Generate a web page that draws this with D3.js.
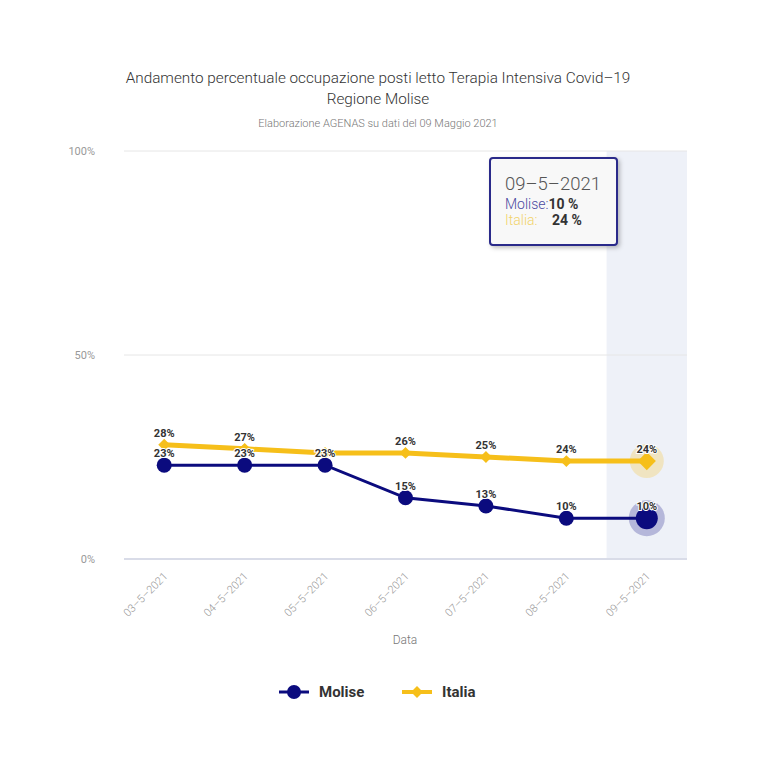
<!DOCTYPE html>
<html>
<head>
<meta charset="utf-8">
<script src="https://cdn.jsdelivr.net/npm/d3@7/dist/d3.min.js"></script>
<style>
  body { margin: 0; background: #fff; }
  svg { font-family: Roboto, "Open Sans", sans-serif; }
</style>
</head>
<body>
<div id="chart"></div>
<script>
const dates = ["03–5–2021", "04–5–2021", "05–5–2021", "06–5–2021", "07–5–2021", "08–5–2021", "09–5–2021"];
const molise = [23, 23, 23, 15, 13, 10, 10];
const italia = [28, 27, 26, 26, 25, 24, 24];
const yTicks = [0, 50, 100];
// labels hidden in the original because they overlap
const italiaHidden = [false, false, true, false, false, false, false];

const width = 768, height = 768;
const margin = {left: 124, right: 81, top: 151, bottom: 209};

const navy = "#0b0b7e", gold = "#f6bf1a";

let svg = d3.select("#chart")
    .append("svg")
    .attr("width", width)
    .attr("height", height);

let x = d3.scaleBand()
    .domain(dates)
    .range([margin.left, width - margin.right]);

let y = d3.scaleLinear()
    .domain([0, 100])
    .range([height - margin.bottom, margin.top]);

let cx = d => x(d) + x.bandwidth() / 2;

// highlighted band for the hovered category
let hover = dates[dates.length - 1];
svg.append("rect")
    .attr("x", x(hover))
    .attr("y", y(100))
    .attr("width", x.bandwidth())
    .attr("height", y(0) - y(100))
    .attr("fill", "#eef1f8");

// grid
svg.append("g").selectAll("line").data(yTicks.filter(t => t > 0)).enter()
    .append("line")
    .attr("x1", margin.left).attr("x2", width - margin.right)
    .attr("y1", d => y(d)).attr("y2", d => y(d))
    .attr("stroke", "#e6e6e6").attr("stroke-width", 1);

svg.append("line")
    .attr("x1", margin.left).attr("x2", width - margin.right)
    .attr("y1", y(0)).attr("y2", y(0))
    .attr("stroke", "#d9dce8").attr("stroke-width", 2);

svg.append("g").selectAll("text").data(yTicks).enter()
    .append("text")
    .attr("x", 95)
    .attr("y", d => y(d) + 4)
    .attr("text-anchor", "end")
    .attr("font-size", 11)
    .attr("fill", "#999")
    .text(d => d + "%");

// x labels
svg.append("g").selectAll("text").data(dates).enter()
    .append("text")
    .attr("transform", d => `translate(${cx(d) + 4}, ${y(0) + 18})rotate(-45)`)
    .attr("text-anchor", "end")
    .attr("font-size", 11)
    .attr("font-weight", 300)
    .attr("fill", "#999")
    .text(d => d);

svg.append("text")
    .attr("x", 405).attr("y", 644)
    .attr("text-anchor", "middle")
    .attr("font-size", 12)
    .attr("font-weight", 300)
    .attr("fill", "#777")
    .text("Data");

// titles
svg.append("text")
    .attr("x", 378).attr("y", 83)
    .attr("text-anchor", "middle")
    .attr("font-size", 15.3)
    .attr("font-weight", 300)
    .attr("fill", "#333")
    .text("Andamento percentuale occupazione posti letto Terapia Intensiva Covid–19");
svg.append("text")
    .attr("x", 378).attr("y", 104)
    .attr("text-anchor", "middle")
    .attr("font-size", 15.3)
    .attr("font-weight", 300)
    .attr("fill", "#333")
    .text("Regione Molise");
svg.append("text")
    .attr("x", 378).attr("y", 127)
    .attr("text-anchor", "middle")
    .attr("font-size", 11)
    .attr("font-weight", 300)
    .attr("fill", "#777")
    .text("Elaborazione AGENAS su dati del 09 Maggio 2021");

let line = d3.line()
    .x((d, i) => cx(dates[i]))
    .y(d => y(d));

// Italia
svg.append("path")
    .datum(italia)
    .attr("d", line)
    .attr("fill", "none")
    .attr("stroke", gold)
    .attr("stroke-width", 5)
    .attr("stroke-linejoin", "round");

let diamond = d3.symbol().type(d3.symbolDiamond2);

svg.append("circle")
    .attr("cx", cx(hover)).attr("cy", y(italia[italia.length - 1]))
    .attr("r", 17)
    .attr("fill", gold).attr("opacity", 0.25);

svg.append("g").selectAll("path").data(italia).enter()
    .append("path")
    .attr("transform", (d, i) => `translate(${cx(dates[i])}, ${y(d)})`)
    .attr("d", (d, i) => diamond.size(i === dates.length - 1 ? 210 : 90)())
    .attr("fill", gold);

// Molise
svg.append("path")
    .datum(molise)
    .attr("d", line)
    .attr("fill", "none")
    .attr("stroke", navy)
    .attr("stroke-width", 3);

svg.append("circle")
    .attr("cx", cx(hover)).attr("cy", y(molise[molise.length - 1]))
    .attr("r", 18)
    .attr("fill", navy).attr("opacity", 0.25);

svg.append("g").selectAll("circle").data(molise).enter()
    .append("circle")
    .attr("cx", (d, i) => cx(dates[i]))
    .attr("cy", d => y(d))
    .attr("r", (d, i) => i === dates.length - 1 ? 11 : 7.5)
    .attr("fill", navy);

// data labels
function labels(vals, hidden) {
    let pts = vals.map((v, i) => ({v: v, date: dates[i]}))
        .filter((p, i) => !hidden || !hidden[i]);
    svg.append("g").selectAll("text").data(pts).enter()
        .append("text")
        .attr("x", p => cx(p.date))
        .attr("y", p => y(p.v) - 8)
        .attr("text-anchor", "middle")
        .attr("font-size", 11)
        .attr("font-weight", "bold")
        .attr("fill", "#333")
        .attr("stroke", "#fff")
        .attr("stroke-width", 2)
        .attr("paint-order", "stroke")
        .text(p => p.v + "%");
}
labels(italia, italiaHidden);
labels(molise, null);

// tooltip
let defs = svg.append("defs");
let f = defs.append("filter").attr("id", "shadow").attr("x", "-20%").attr("y", "-20%").attr("width", "150%").attr("height", "150%");
f.append("feDropShadow").attr("dx", 2).attr("dy", 2).attr("stdDeviation", 2).attr("flood-color", "#000").attr("flood-opacity", 0.25);

let tip = svg.append("g").attr("transform", "translate(490, 158)");
tip.append("rect")
    .attr("width", 127).attr("height", 87)
    .attr("rx", 3)
    .attr("fill", "#f8f8f8")
    .attr("stroke", "#2a2a8a")
    .attr("stroke-width", 2)
    .attr("filter", "url(#shadow)");
tip.append("text")
    .attr("x", 15).attr("y", 32)
    .attr("font-size", 18.5)
    .attr("font-weight", 300)
    .attr("fill", "#555")
    .text(hover);
let t1 = tip.append("text").attr("x", 15).attr("y", 51).attr("font-size", 14);
t1.append("tspan").attr("fill", "#4a4aa0").attr("font-weight", 300).text("Molise:");
t1.append("tspan").attr("fill", "#333").attr("font-weight", "bold").text(molise[molise.length - 1] + " %");
let t2 = tip.append("text").attr("x", 15).attr("y", 67).attr("font-size", 14);
t2.append("tspan").attr("fill", "#f2d36a").attr("font-weight", 300).text("Italia:");
t2.append("tspan").attr("x", 62).attr("fill", "#333").attr("font-weight", "bold").text(italia[italia.length - 1] + " %");

// legend
let legend = [
    {name: "Molise", color: navy, x: 279, shape: "circle"},
    {name: "Italia", color: gold, x: 402, shape: "diamond"}
];
let lg = svg.append("g").selectAll("g").data(legend).enter()
    .append("g")
    .attr("transform", d => `translate(${d.x}, 692)`);
lg.append("line")
    .attr("x1", 0).attr("x2", 30)
    .attr("stroke", d => d.color)
    .attr("stroke-width", d => d.shape === "circle" ? 3 : 4);
lg.each(function(d) {
    let g = d3.select(this);
    if (d.shape === "circle") {
        g.append("circle").attr("cx", 15).attr("r", 7).attr("fill", d.color);
    } else {
        g.append("path").attr("transform", "translate(15,0)").attr("d", diamond.size(90)()).attr("fill", d.color);
    }
});
lg.append("text")
    .attr("x", 40).attr("y", 5)
    .attr("font-size", 15)
    .attr("font-weight", "bold")
    .attr("fill", "#333")
    .text(d => d.name);
</script>
</body>
</html>
